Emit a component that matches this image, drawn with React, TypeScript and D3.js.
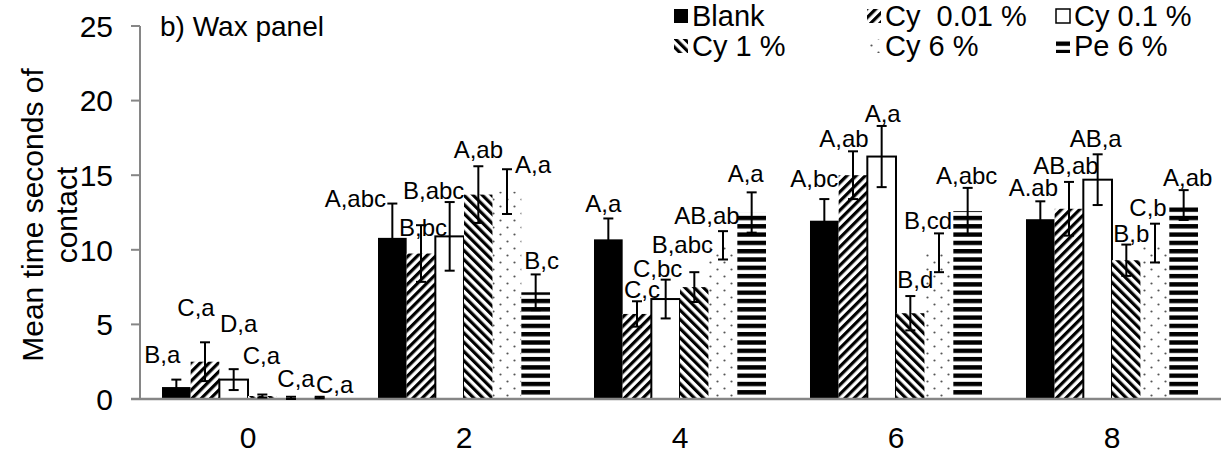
import React, { useEffect } from "react";
import * as d3 from "d3";

// ---- data ----
const groups = ["0", "2", "4", "6", "8"];
const seriesKeys = ["blank", "cy001", "cy01", "cy1", "cy6", "pe6"];
const seriesNames = ["Blank", "Cy  0.01 %", "Cy 0.1 %", "Cy 1 %", "Cy 6 %", "Pe 6 %"];

const blankVals = [0.8, 10.8, 10.7, 11.95, 12.05];
const cy001Vals = [2.5, 9.75, 5.7, 15.0, 12.75];
const cy01Vals = [1.3, 10.9, 6.7, 16.25, 14.7];
const cy1Vals = [0.2, 13.7, 7.5, 5.75, 9.3];
const cy6Vals = [0.05, 13.9, 10.3, 9.8, 10.45];
const pe6Vals = [0.1, 7.15, 12.5, 12.6, 13.0];

const blankErr = [0.5, 2.3, 1.4, 1.45, 1.2];
const cy001Err = [1.3, 1.9, 0.85, 1.6, 1.8];
const cy01Err = [0.7, 2.3, 1.3, 2.05, 1.7];
const cy1Err = [0.1, 1.9, 1.0, 1.15, 1.05];
const cy6Err = [0.1, 1.5, 0.95, 1.3, 1.3];
const pe6Err = [0.05, 1.2, 1.35, 1.55, 1.0];

const blankLabels = ["B,a", "A,abc", "A,a", "A,bc", "A.ab"];
const cy001Labels = ["C,a", "B,bc", "C,c", "A,ab", "AB,ab"];
const cy01Labels = ["D,a", "B,abc", "C,bc", "A,a", "AB,a"];
const cy1Labels = ["C,a", "A,ab", "B,abc", "B,d", "B,b"];
const cy6Labels = ["C,a", "A,a", "AB,ab", "B,cd", "C,b"];
const pe6Labels = ["C,a", "B,c", "A,a", "A,abc", "A,ab"];

const yTicks = [0, 5, 10, 15, 20, 25];

// ---- layout (label nudges relative to bar centre / error-bar top) ----
const labelNudge: [number, number][][] = [
  [[-14, -17], [-37, 3], [-5, -6], [-10, -12], [-7, -5]],
  [[-9, -26], [2, 11], [5, -3], [-9, -4], [-3, -8]],
  [[5, -37], [-16, -3], [-8, -3], [1, -4], [-2, -7]],
  [[-1, -31], [0, -8], [-12, -19], [5, -8], [5, -3]],
  [[5, -10], [26, 4], [-16, -7], [-11, -4], [-7, -8]],
  [[15, -4], [6, -5], [-6, -10], [-1, -4], [4, -4]],
];

const values = [blankVals, cy001Vals, cy01Vals, cy1Vals, cy6Vals, pe6Vals];
const errs = [blankErr, cy001Err, cy01Err, cy1Err, cy6Err, pe6Err];
const labels = [blankLabels, cy001Labels, cy01Labels, cy1Labels, cy6Labels, pe6Labels];

const W = 1224;
const H = 454;
const FONT = "'Liberation Sans', Arial, Helvetica, sans-serif";
const AXIS = "#868686";

const fills: Record<string, string> = {
  blank: "#000",
  cy001: "url(#pFwd)",
  cy01: "#fff",
  cy1: "url(#pBack)",
  cy6: "url(#pDots)",
  pe6: "url(#pHoriz)",
};

export default function App() {
  useEffect(() => {
    document.body.style.margin = "0";
  }, []);

  const x0 = d3
    .scaleBand<string>()
    .domain(groups)
    .range([140, 1220])
    .paddingInner(0.2037)
    .paddingOuter(0.1019);
  const x1 = d3.scaleBand<string>().domain(seriesKeys).range([0, x0.bandwidth()]);
  const y = d3.scaleLinear().domain([0, 25]).range([399, 26]);

  const legendCols = [674, 867, 1056];
  const legendRows = [26, 56];

  return (
    <svg
      width={W}
      height={H}
      style={{ position: "absolute", left: 0, top: 0, background: "#fff" }}
      fontFamily={FONT}
    >
      <defs>
        <pattern id="pFwd" patternUnits="userSpaceOnUse" width="6.5" height="6.5" patternTransform="rotate(45)">
          <rect width="6.5" height="6.5" fill="#fff" />
          <rect width="3.2" height="6.5" fill="#000" />
        </pattern>
        <pattern id="pBack" patternUnits="userSpaceOnUse" width="6.5" height="6.5" patternTransform="rotate(-45)">
          <rect width="6.5" height="6.5" fill="#fff" />
          <rect width="3.2" height="6.5" fill="#000" />
        </pattern>
        <pattern id="pHoriz" patternUnits="userSpaceOnUse" width="8" height="8.3">
          <rect width="8" height="8.3" fill="#fff" />
          <rect width="8" height="4.4" fill="#000" />
        </pattern>
        <pattern id="pDots" patternUnits="userSpaceOnUse" width="14" height="14">
          <rect width="14" height="14" fill="#fff" />
          <circle cx="3.5" cy="3.5" r="1.1" fill="#555" />
          <circle cx="10.5" cy="10.5" r="1.1" fill="#555" />
        </pattern>
      </defs>

      {/* y axis */}
      <line x1={140} x2={140} y1={y(25)} y2={y(0)} stroke={AXIS} strokeWidth={2} />
      {yTicks.map((t) => (
        <g key={t}>
          <line x1={131} x2={140} y1={y(t)} y2={y(t)} stroke={AXIS} strokeWidth={2} />
          <text x={113} y={y(t)} dy="0.36em" textAnchor="end" fontSize={30} fill="#000">
            {t}
          </text>
        </g>
      ))}

      {/* axis title */}
      <text
        transform={`translate(32,215) rotate(-90)`}
        textAnchor="middle"
        dy="0.36em"
        fontSize={30}
        fill="#000"
      >
        Mean time seconds of
      </text>
      <text
        transform={`translate(66,215) rotate(-90)`}
        textAnchor="middle"
        dy="0.36em"
        fontSize={30}
        fill="#000"
      >
        contact
      </text>

      {/* bars */}
      {seriesKeys.map((k, si) =>
        groups.map((g, gi) => {
          const v = values[si][gi];
          const bx = (x0(g) as number) + (x1(k) as number);
          const bw = x1.bandwidth();
          return (
            <rect
              key={k + g}
              x={bx}
              y={y(v)}
              width={bw}
              height={y(0) - y(v)}
              fill={fills[k]}
              stroke={k === "cy01" ? "#000" : "none"}
              strokeWidth={k === "cy01" ? 2 : 0}
            />
          );
        })
      )}

      {/* x axis line */}
      <line x1={131} x2={1221} y1={y(0)} y2={y(0)} stroke={AXIS} strokeWidth={2.5} />

      {/* error bars */}
      {seriesKeys.map((k, si) =>
        groups.map((g, gi) => {
          const v = values[si][gi];
          const e = errs[si][gi];
          const cx = (x0(g) as number) + (x1(k) as number) + x1.bandwidth() / 2;
          const lo = Math.max(0, v - e);
          return (
            <g key={"e" + k + g} stroke="#000" strokeWidth={2}>
              <line x1={cx} x2={cx} y1={y(v + e)} y2={y(lo)} />
              <line x1={cx - 5} x2={cx + 5} y1={y(v + e)} y2={y(v + e)} />
              <line x1={cx - 5} x2={cx + 5} y1={y(lo)} y2={y(lo)} />
            </g>
          );
        })
      )}

      {/* data labels */}
      {seriesKeys.map((k, si) =>
        groups.map((g, gi) => {
          const v = values[si][gi];
          const e = errs[si][gi];
          const cx = (x0(g) as number) + (x1(k) as number) + x1.bandwidth() / 2;
          const [dx, dy] = labelNudge[si][gi];
          return (
            <text
              key={"l" + k + g}
              x={cx + dx}
              y={y(v + e) + dy}
              textAnchor="middle"
              fontSize={24}
              fill="#000"
            >
              {labels[si][gi]}
            </text>
          );
        })
      )}

      {/* x tick labels */}
      {groups.map((g) => (
        <text
          key={"x" + g}
          x={(x0(g) as number) + x0.bandwidth() / 2}
          y={448}
          textAnchor="middle"
          fontSize={30}
          fill="#000"
        >
          {g}
        </text>
      ))}

      {/* title */}
      <text x={160} y={36} fontSize={28} fill="#000">
        b) Wax panel
      </text>

      {/* legend */}
      {seriesKeys.map((k, si) => {
        const col = si % 3;
        const row = Math.floor(si / 3);
        const mx = legendCols[col];
        const by = legendRows[row];
        return (
          <g key={"lg" + k}>
            <rect
              x={mx}
              y={by - 17}
              width={14}
              height={14}
              fill={fills[k]}
              stroke={k === "cy01" ? "#000" : "none"}
              strokeWidth={1.5}
            />
            <text
              x={mx + 18}
              y={by}
              fontSize={29}
              fill="#000"
              style={{ whiteSpace: "pre" }}
            >
              {seriesNames[si]}
            </text>
          </g>
        );
      })}
    </svg>
  );
}
